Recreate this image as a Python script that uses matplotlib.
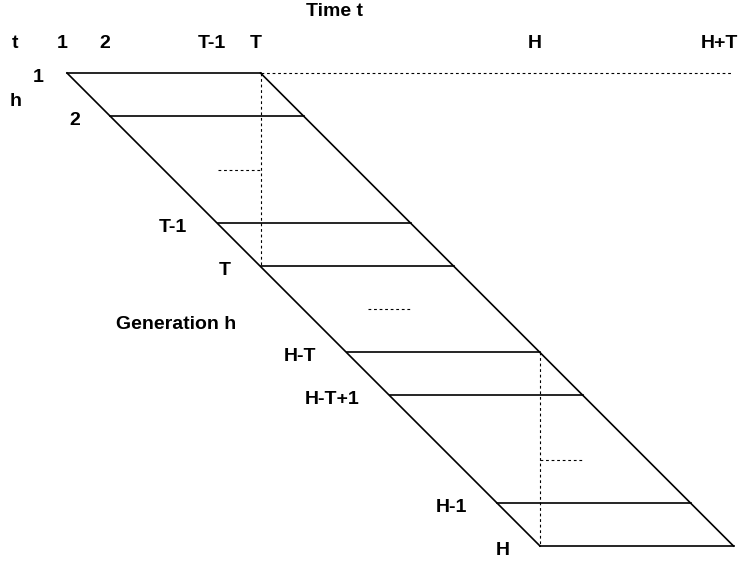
import matplotlib.pyplot as plt

plt.rcParams['font.family'] = ['Liberation Sans', 'DejaVu Sans']

# generations drawn as rows, placed by their start time (diagram units)
gen_labels = ['1', '2', 'T-1', 'T', 'H-T', 'H-T+1', 'H-1', 'H']
gen_pos = [0, 1, 3.5, 4.5, 6.5, 7.5, 10, 11]
span = 4.5          # each generation lives T periods

# time axis labels along the top
time_labels = ['1', '2', 'T-1', 'T', 'H', 'H+T']
time_pos = [0, 1, 3.5, 4.5, 11, 15.5]

# short dotted "..." marks between the rows (time start, generation level)
gap_x = [3.5, 7.0, 11.0]
gap_y = [2.25, 5.5, 9.0]

unit = 43.0   # pixels per unit
fs = 14
fig = plt.figure(figsize=(7.4, 5.62), dpi=100)
ax = fig.add_axes([0, 0, 1, 1])
ax.set_xlim(-67 / unit, (740 - 67) / unit)
ax.set_ylim((562 - 73) / unit, -73 / unit)
ax.axis('off')

solid = dict(color='black', lw=1.2)
dotted = dict(color='black', lw=0.8, linestyle=(0, (2.5, 2.5)))

# parallelogram sides
ax.plot([gen_pos[0], gen_pos[-1]], [gen_pos[0], gen_pos[-1]], **solid)
ax.plot([gen_pos[0] + span, gen_pos[-1] + span], [gen_pos[0], gen_pos[-1]], **solid)

# one horizontal line per generation
for lab, p in zip(gen_labels, gen_pos):
    ax.plot([p, p + span], [p, p], **solid)
    off = 0.55 if lab == '1' else 0.7
    ax.text(p - off, p + 0.1, lab, ha='right', va='center',
            fontsize=fs, fontweight='bold')

# dotted guides
T = gen_pos[gen_labels.index('T')]
H = gen_pos[gen_labels.index('H')]
HT = gen_pos[gen_labels.index('H-T')]
ax.plot([T, time_pos[-1] - 0.05], [0, 0], **dotted)
ax.plot([T, T], [0, T], **dotted)
ax.plot([H, H], [HT, H], **dotted)
for gx, gy in zip(gap_x, gap_y):
    ax.plot([gx, gx + 1], [gy, gy], **dotted)

# time labels
y_lab = (43 - 73) / unit
ax.text(-1.21, y_lab, 't', ha='center', va='center', fontsize=fs, fontweight='bold')
for lab, p in zip(time_labels, time_pos):
    if lab == time_labels[-1]:
        ax.text(p + 0.1, y_lab, lab, ha='right', va='center', fontsize=fs, fontweight='bold')
    else:
        ax.text(p - 0.12, y_lab, lab, ha='center', va='center', fontsize=fs, fontweight='bold')

ax.text(-1.19, 0.67, 'h', ha='center', va='center', fontsize=fs, fontweight='bold')
ax.text(6.23, -1.44, 'Time t', ha='center', va='center', fontsize=fs, fontweight='bold')
ax.text(2.53, 5.84, 'Generation h', ha='center', va='center', fontsize=fs, fontweight='bold')

fig.savefig('out.png', dpi=100)
